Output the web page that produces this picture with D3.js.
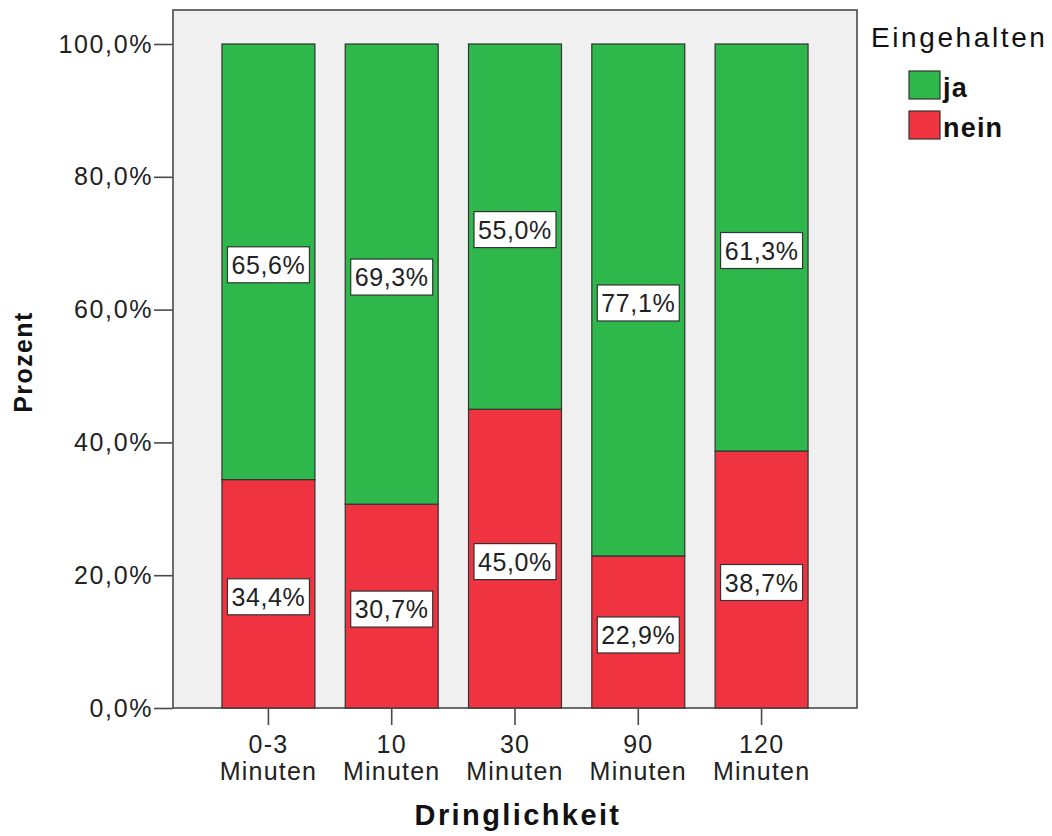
<!DOCTYPE html>
<html>
<head>
<meta charset="utf-8">
<script src="https://cdn.jsdelivr.net/npm/d3@7"></script>
<style>
  html, body { margin: 0; padding: 0; background: #ffffff; }
  svg { display: block; }
</style>
</head>
<body>
<svg id="chart" width="1052" height="836"></svg>
<script>
// Urgency categories (two-line labels) and the share of each outcome in percent
const categories = ["0-3 Minuten", "10 Minuten", "30 Minuten", "90 Minuten", "120 Minuten"];
const seriesNames = ["ja", "nein"];
const jaValues = [65.6, 69.3, 55.0, 77.1, 61.3];
const neinValues = [34.4, 30.7, 45.0, 22.9, 38.7];
const yTicks = [0, 20, 40, 60, 80, 100];

const colors = { ja: "#2eb84c", nein: "#ef3340" };
const FONT = "'Liberation Sans', Arial, sans-serif";

const de = d3.formatLocale({ decimal: ",", thousands: ".", grouping: [3], currency: ["", " €"] });
const pct = v => de.format(".1f")(v) + "%";

const rows = categories.map((c, i) => ({ cat: c, nein: neinValues[i], ja: jaValues[i] }));
const stack = d3.stack().keys(["nein", "ja"])(rows);

const svg = d3.select("#chart");
const frame = { left: 173, right: 857, top: 10, bottom: 708 };

const x = d3.scaleBand()
  .domain(categories)
  .range([frame.left, frame.right])
  .paddingInner(0.246)
  .paddingOuter(0.397);

const y = d3.scaleLinear().domain([0, 100]).range([708, 44]);

// plot background and frame
svg.append("rect")
  .attr("x", frame.left).attr("y", frame.top)
  .attr("width", frame.right - frame.left).attr("height", frame.bottom - frame.top)
  .attr("fill", "#f0f0f0").attr("stroke", "#4a4a4a").attr("stroke-width", 1.6);

// stacked bars
const layers = svg.append("g").selectAll("g").data(stack).join("g")
  .attr("fill", d => colors[d.key]);

layers.selectAll("rect").data(d => d).join("rect")
  .attr("x", d => x(d.data.cat))
  .attr("width", x.bandwidth())
  .attr("y", d => y(d[1]))
  .attr("height", d => y(d[0]) - y(d[1]))
  .attr("stroke", "#333").attr("stroke-width", 1.2);

// value labels in boxes
const labelG = svg.append("g");
stack.forEach(layer => {
  layer.forEach(d => {
    const v = d[1] - d[0];
    const cx = x(d.data.cat) + x.bandwidth() / 2;
    const cy = y((d[0] + d[1]) / 2) + 3;
    const g = labelG.append("g");
    g.append("text")
      .attr("x", cx).attr("y", cy)
      .attr("text-anchor", "middle").attr("dominant-baseline", "central")
      .attr("font-family", FONT)
      .attr("font-size", 25).attr("letter-spacing", 0.6)
      .attr("fill", "#222")
      .text(pct(v));
    const w = 82, h = 36;
    g.insert("rect", "text")
      .attr("x", cx - w / 2).attr("y", cy - h / 2)
      .attr("width", w).attr("height", h)
      .attr("fill", "#fff").attr("stroke", "#333").attr("stroke-width", 1.2);
  });
});

// y axis
const yAxis = d3.axisLeft(y).tickValues(yTicks).tickSize(19).tickPadding(1)
  .tickFormat(v => pct(v));
const ya = svg.append("g").attr("transform", `translate(${frame.left},0)`).call(yAxis);
ya.select(".domain").remove();
ya.selectAll("line").attr("stroke", "#4a4a4a").attr("stroke-width", 1.6);
ya.selectAll("text")
  .attr("font-family", FONT)
  .attr("font-size", 25).attr("letter-spacing", 1.6).attr("fill", "#222");

// x axis
const xAxis = d3.axisBottom(x).tickSize(17).tickFormat("");
const xa = svg.append("g").attr("transform", `translate(0,${frame.bottom})`).call(xAxis);
xa.select(".domain").remove();
xa.selectAll("line").attr("stroke", "#4a4a4a").attr("stroke-width", 1.6);
xa.selectAll(".tick").each(function (c) {
  const parts = c.split(" ");
  const t = d3.select(this).append("text")
    .attr("text-anchor", "middle")
    .attr("font-family", FONT)
    .attr("font-size", 25).attr("letter-spacing", 1.2).attr("fill", "#222");
  t.append("tspan").attr("x", 0).attr("y", 45).text(parts[0]);
  t.append("tspan").attr("x", 0).attr("y", 72).text(parts[1]);
});

// axis titles
svg.append("text")
  .attr("x", 518).attr("y", 825)
  .attr("text-anchor", "middle")
  .attr("font-family", FONT)
  .attr("font-weight", "bold").attr("font-size", 29).attr("letter-spacing", 2.4)
  .attr("fill", "#111")
  .text("Dringlichkeit");

svg.append("text")
  .attr("transform", "translate(32,362) rotate(-90)")
  .attr("text-anchor", "middle")
  .attr("font-family", FONT)
  .attr("font-weight", "bold").attr("font-size", 25).attr("letter-spacing", 1.4)
  .attr("fill", "#111")
  .text("Prozent");

// legend
const legend = svg.append("g");
legend.append("text")
  .attr("x", 871).attr("y", 47)
  .attr("font-family", FONT)
  .attr("font-weight", 500)
  .attr("font-size", 28).attr("letter-spacing", 2.6)
  .attr("fill", "#111")
  .text("Eingehalten");

seriesNames.forEach((name, i) => {
  const yy = 71 + i * 40;
  legend.append("rect")
    .attr("x", 909).attr("y", yy).attr("width", 31).attr("height", 28)
    .attr("fill", colors[name]).attr("stroke", "#333").attr("stroke-width", 1.2);
  legend.append("text")
    .attr("x", 943).attr("y", yy + 26)
    .attr("font-family", FONT)
    .attr("font-weight", "bold")
    .attr("font-size", 27).attr("letter-spacing", 1.2)
    .attr("fill", "#111")
    .text(name);
});
</script>
</body>
</html>
